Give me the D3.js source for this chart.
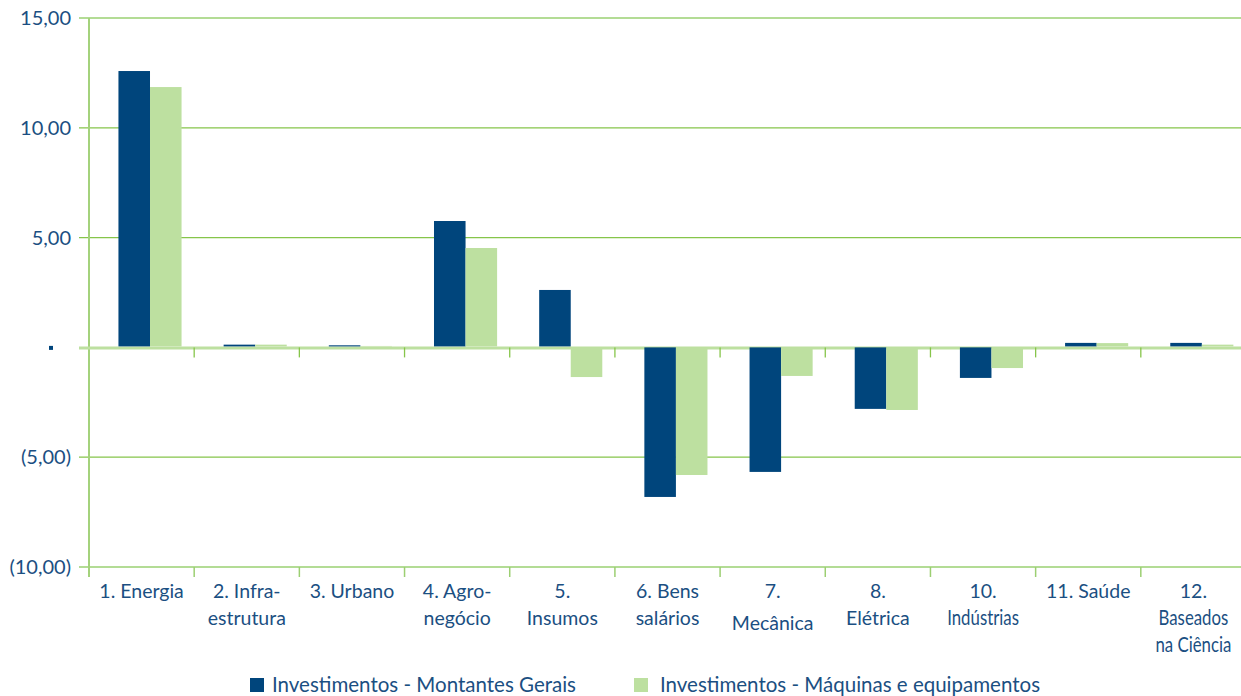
<!DOCTYPE html>
<html><head><meta charset="utf-8">
<script src="https://cdn.jsdelivr.net/npm/d3@7"></script>
<style>body{margin:0;background:#fff}svg{display:block}text{font-family:Lato,"Open Sans",sans-serif;fill:#1b4f82}</style>
</head><body>
<svg id="c" width="1241" height="696"></svg>
<script>
const categories = ["1. Energia","2. Infra-estrutura","3. Urbano","4. Agro-negócio","5. Insumos","6. Bens salários","7. Mecânica","8. Elétrica","10. Indústrias","11. Saúde","12. Baseados na Ciência"];
const labelLines = [["1. Energia"],["2. Infra-","estrutura"],["3. Urbano"],["4. Agro-","negócio"],["5.","Insumos"],["6. Bens","salários"],["7.","Mecânica"],["8.","Elétrica"],["10.","Indústrias"],["11. Saúde"],["12.","Baseados","na Ciência"]];
const seriesNames = ["Investimentos - Montantes Gerais","Investimentos - Máquinas e equipamentos"];
const montantesGerais = [12.54, 0.08, 0.05, 5.71, 2.57, -6.81, -5.67, -2.80, -1.39, 0.16, 0.16];
const maquinasEquip = [11.81, 0.08, 0.02, 4.48, -1.35, -5.81, -1.30, -2.85, -0.94, 0.15, 0.08];
const yTicks = [15, 10, 5, 0, -5, -10];
const yTickLabels = ["15,00","10,00","5,00","-","(5,00)","(10,00)"];
const colors = ["#00457c", "#bde0a0"];

const svg = d3.select("#c");
const m = {l: 89, t: 18, b: 129};
const W = 1241, H = 696;
const x = d3.scaleBand().domain(categories).range([m.l, 1246]);
const y = d3.scaleLinear().domain([-10, 15]).range([H - m.b, m.t]);
const bw = x.bandwidth();

// gridlines
const g = svg.append("g");
yTicks.forEach(t => {
  const edge = (t === 15 || t === -10);
  if (t === 0) return;
  g.append("line").attr("x1", m.l - 10).attr("x2", W)
    .attr("y1", y(t)).attr("y2", y(t))
    .attr("stroke", edge ? "#b3dc95" : "#86c54a").attr("stroke-width", edge ? 2 : 1.3);
});
// left axis line
g.append("line").attr("x1", m.l).attr("x2", m.l).attr("y1", m.t).attr("y2", y(-10) + 10)
  .attr("stroke", "#a4d27c").attr("stroke-width", 2);
// bottom ticks
categories.forEach((c, i) => {
  if (i === 0) return;
  g.append("line").attr("x1", x(c)).attr("x2", x(c)).attr("y1", y(-10)).attr("y2", y(-10) + 10)
    .attr("stroke", "#9ccf72").attr("stroke-width", 1.5);
});

// zero axis
svg.append("line").attr("x1", m.l - 10).attr("x2", W).attr("y1", y(0) + 0.5).attr("y2", y(0) + 0.5)
  .attr("stroke", "#bde0a0").attr("stroke-width", 3);
categories.forEach((c, i) => {
  if (i === 0) return;
  svg.append("line").attr("x1", x(c)).attr("x2", x(c)).attr("y1", y(0)).attr("y2", y(0) + 10)
    .attr("stroke", "#86c54a").attr("stroke-width", 1.3);
});

// bars
const series = [montantesGerais, maquinasEquip];
const barW = bw * 0.30;
const off = bw * 0.28;
series.forEach((vals, s) => {
  svg.append("g").selectAll("rect").data(vals).join("rect")
    .attr("x", (d, i) => x(categories[i]) + off + s * barW)
    .attr("width", barW)
    .attr("y", d => y(Math.max(0, d)) - (d > 0 ? 1 : 0))
    .attr("height", d => Math.abs(y(d) - y(0)))
    .attr("fill", colors[s]);
});

// y labels
yTicks.forEach((t, i) => {
  if (t === 0) {
    svg.append("rect").attr("x", 49).attr("y", y(0) - 1.5).attr("width", 4).attr("height", 4).attr("fill", "#00457c");
    return;
  }
  svg.append("text").attr("x", 71).attr("y", y(t)).attr("dy", "0.36em")
    .attr("text-anchor", "end").attr("font-size", 20).text(yTickLabels[i]);
});

// x labels
const condensed = new Set(["Indústrias", "Baseados", "na Ciência"]);
categories.forEach((c, i) => {
  const cx = x(c) + bw / 2;
  labelLines[i].forEach((ln, k) => {
    const yy = y(-10) + 31 + k * 27 + (ln === "Mecânica" ? 5 : 0);
    const t = svg.append("text").attr("text-anchor", "middle").text(ln);
    if (condensed.has(ln)) {
      t.attr("font-size", 21).attr("transform", `translate(${cx},${yy}) scale(0.8,1)`);
    } else {
      t.attr("font-size", 19.5).attr("transform", `translate(${cx},${yy})`);
    }
  });
});

// legend
const leg = [{x: 250, tx: 272}, {x: 634, tx: 660}];
seriesNames.forEach((n, s) => {
  svg.append("rect").attr("x", leg[s].x).attr("y", 678).attr("width", 14).attr("height", 14).attr("fill", colors[s]);
  svg.append("text").attr("x", leg[s].tx).attr("y", 692).attr("font-size", 20.5).text(n);
});
</script>
</body></html>
